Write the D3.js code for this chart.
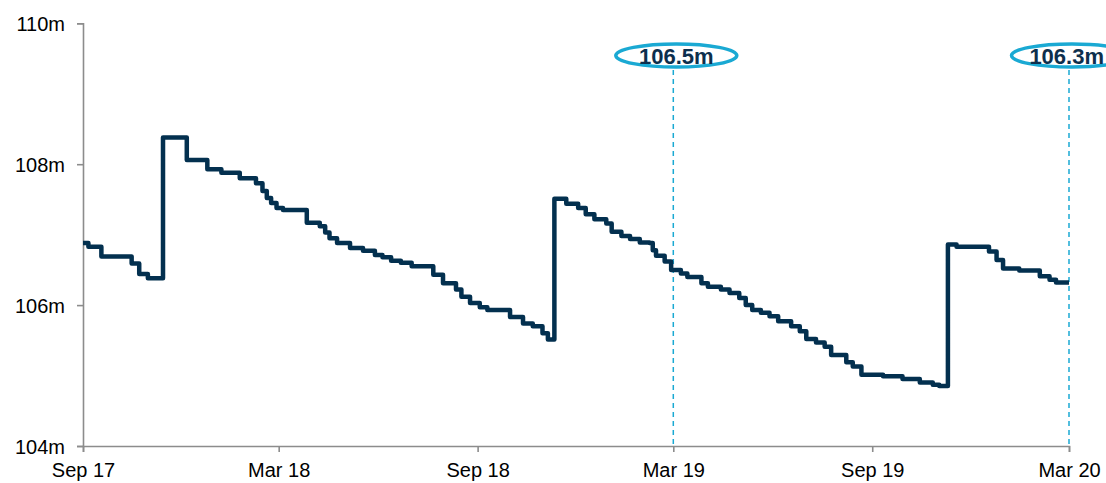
<!DOCTYPE html>
<html><head><meta charset="utf-8">
<script src="https://cdn.jsdelivr.net/npm/d3@7/dist/d3.min.js"></script>
<style>body{margin:0;background:#fff}svg{display:block}text{font-family:"Liberation Sans",Arial,sans-serif}</style>
</head><body><svg id="c" width="1106" height="483"></svg>
<script>
const dates = ["2017-09-01","2017-09-06","2017-09-18","2017-10-16","2017-10-23","2017-10-31","2017-11-14","2017-12-06","2017-12-25","2018-01-07","2018-01-24","2018-02-08","2018-02-14","2018-02-18","2018-02-22","2018-02-27","2018-03-05","2018-03-27","2018-04-08","2018-04-13","2018-04-17","2018-04-24","2018-05-06","2018-05-18","2018-05-29","2018-06-05","2018-06-13","2018-06-22","2018-07-02","2018-07-22","2018-07-31","2018-08-12","2018-08-17","2018-08-25","2018-09-03","2018-09-10","2018-10-01","2018-10-13","2018-10-22","2018-10-31","2018-11-05","2018-11-11","2018-11-22","2018-12-03","2018-12-10","2018-12-18","2018-12-29","2019-01-03","2019-01-12","2019-01-20","2019-01-29","2019-02-07","2019-02-10","2019-02-13","2019-02-21","2019-02-27","2019-03-08","2019-03-14","2019-03-27","2019-04-02","2019-04-14","2019-04-22","2019-05-01","2019-05-07","2019-05-13","2019-05-21","2019-05-29","2019-06-06","2019-06-18","2019-06-26","2019-07-02","2019-07-11","2019-07-19","2019-07-25","2019-08-08","2019-08-14","2019-08-22","2019-09-11","2019-09-29","2019-10-15","2019-10-27","2019-11-02","2019-11-10","2019-11-18","2019-12-18","2019-12-25","2019-12-31","2020-01-15","2020-02-03","2020-02-12","2020-02-18","2020-03-01"];
const values = [106.88,106.83,106.69,106.59,106.44,106.38,108.38,108.06,107.93,107.88,107.80,107.73,107.62,107.52,107.45,107.38,107.35,107.17,107.12,107.03,106.95,106.88,106.81,106.77,106.71,106.68,106.63,106.60,106.55,106.43,106.31,106.22,106.12,106.03,105.97,105.93,105.83,105.74,105.70,105.60,105.51,107.51,107.44,107.38,107.29,107.22,107.16,107.04,106.98,106.94,106.89,106.88,106.78,106.70,106.62,106.50,106.45,106.40,106.31,106.26,106.22,106.17,106.10,106.00,105.93,105.89,105.84,105.77,105.70,105.63,105.52,105.47,105.41,105.29,105.19,105.13,105.01,104.99,104.95,104.90,104.87,104.85,106.86,106.83,106.76,106.64,106.52,106.49,106.41,106.36,106.32,106.32];
const xTickDates = ["2017-09-01","2018-03-01","2018-09-01","2019-03-01","2019-09-01","2020-03-01"];
const xTickLabels = ["Sep 17","Mar 18","Sep 18","Mar 19","Sep 19","Mar 20"];
const yTicks = [104,106,108,110];
const annotDates = ["2019-03-01","2020-03-01"];
const annotLabels = ["106.5m","106.3m"];

const parse = d3.timeParse("%Y-%m-%d");
const data = dates.map((d,i)=>({date:parse(d), v:values[i]}));
const svg = d3.select("#c");
const W=1106, L=83, R=1069, T=23.3, B=446;
const x = d3.scaleTime().domain([parse("2017-09-01"), parse("2020-03-01")]).range([L,R]);
const y = d3.scaleLinear().domain([104,110]).range([B,T]);
const axisColor="#8c8c8c";
const FF="Liberation Sans, Arial, sans-serif";

// y axis
const ya = svg.append("g").attr("transform",`translate(${L},0)`)
  .call(d3.axisLeft(y).tickValues(yTicks).tickSize(6).tickPadding(12).tickFormat(d=>d+"m"));
ya.select(".domain").attr("stroke",axisColor).attr("stroke-width",1.6);
ya.selectAll(".tick line").attr("stroke",axisColor).attr("stroke-width",1.6);
ya.selectAll(".tick text").attr("font-size",20).attr("fill","#000").attr("font-family",FF).attr("dy","0.36em");

// x axis
const xa = svg.append("g").attr("transform",`translate(0,${B})`)
  .call(d3.axisBottom(x).tickValues(xTickDates.map(parse)).tickSize(6).tickPadding(11)
    .tickFormat((d,i)=>xTickLabels[i]));
xa.select(".domain").attr("stroke",axisColor).attr("stroke-width",1.6);
xa.selectAll(".tick line").attr("stroke",axisColor).attr("stroke-width",1.6);
xa.selectAll(".tick text").attr("font-size",20).attr("fill","#000").attr("font-family",FF);

// annotations
const ann = svg.append("g");
annotDates.forEach((d,i)=>{
  const xx = x(parse(d));
  ann.append("line").attr("x1",xx).attr("x2",xx).attr("y1",70).attr("y2",B)
    .attr("stroke","#1aa9d3").attr("stroke-width",1.5).attr("stroke-dasharray","5,4");
  ann.append("ellipse").attr("cx",xx+3).attr("cy",55.5).attr("rx",60.5).attr("ry",11.5)
    .attr("fill","#fff").attr("stroke","#1aa9d3").attr("stroke-width",3.5);
  const t = ann.append("text").attr("x",xx+3).attr("y",63.5).attr("text-anchor","middle")
    .attr("font-size",22).attr("font-weight","bold").attr("fill","#0d2f4d")
    .attr("font-family",FF).text(annotLabels[i]);
  const w = t.node().getComputedTextLength();
  if (xx+3+w/2 > W-2) t.attr("x", W-2-w/2);
});

// line
const line = d3.line().x(d=>x(d.date)).y(d=>y(d.v)).curve(d3.curveStepAfter);
svg.append("path").datum(data).attr("d",line).attr("fill","none")
  .attr("stroke","#03304f").attr("stroke-width",4.5).attr("stroke-linejoin","round");
</script></body></html>
